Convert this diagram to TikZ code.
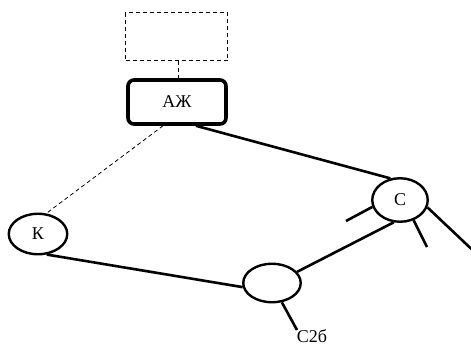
\documentclass[tikz,border=0pt]{standalone}
\usepackage{fontspec}
\setmainfont{Liberation Serif}
\usetikzlibrary{shapes.geometric}
\begin{document}
\begin{tikzpicture}[x=1pt,y=-1pt,
  every node/.style={font=\fontsize{18}{20}\selectfont},
  vertex/.style={ellipse,draw,line width=2.4pt,inner sep=0pt},
  link/.style={line width=2.6pt},
  weak/.style={line width=0.8pt,dash pattern=on 4pt off 3pt}]
\useasboundingbox (0,0) rectangle (471,346);
\clip (0,0) rectangle (471,346);

% boxes
\node[draw,weak,minimum width=102pt,minimum height=48pt,inner sep=0pt] (top) at (176.5,36.5) {};
\node[draw,line width=3.6pt,rounded corners=6pt,minimum width=98pt,minimum height=44pt,inner sep=0pt] (azh) at (177,102) {\raisebox{-2pt}{АЖ}};

% round vertices
\node[vertex,minimum width=55.5pt,minimum height=43.5pt] (c) at (400,200) {С};
\node[vertex,minimum width=58.5pt,minimum height=40.5pt] (k) at (38,234) {К};
\node[vertex,minimum width=57.5pt,minimum height=38.5pt] (m) at (272,283) {};

% free ends of the stubs
\coordinate (cl) at (346,221);
\coordinate (cb) at (427,247);
\coordinate (cr) at (482,259);
\coordinate (mb) at (297,330);
\node[inner sep=0pt,anchor=base,text depth=0pt] (lbl) at (312,342) {С2б};

% dashed links
\draw[weak] (top.south -| 178,0) -- (azh.north -| 178,0);
\draw[weak] ([xshift=-14pt]azh.south) -- (k.68);

% solid links
\draw[link] ([xshift=19pt]azh.south) -- (c.114);
\draw[link] (k.293) -- (m.188);
\draw[link] (m.24) -- (c.254);
\draw[link] (c.194) -- (cl);
\draw[link] (c.304) -- (cb);
\draw[link] (c.345) -- (cr);
\draw[link] (m.297) -- (mb);
\end{tikzpicture}
\end{document}
